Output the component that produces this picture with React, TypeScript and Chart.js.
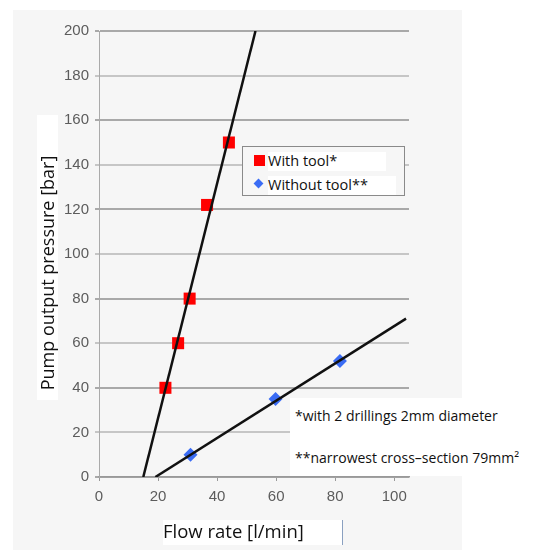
import React, { useEffect, useRef } from "react";
import { Chart, registerables } from "chart.js";

Chart.register(...registerables);

const withToolFlow = [22.5, 26.8, 30.7, 36.6, 44.0];
const withToolPressure = [40, 60, 80, 122, 150];
const withoutToolFlow = [31, 59.8, 81.6];
const withoutToolPressure = [10, 35, 52];
const withTrendFlow = [15.0, 53.0];
const withTrendPressure = [0, 200];
const withoutTrendFlow = [19.1, 104];
const withoutTrendPressure = [0, 71];
const yTicks = [0, 20, 40, 60, 80, 100, 120, 140, 160, 180, 200];
const xTicks = [0, 20, 40, 60, 80, 100];

const legendLabels = ["With tool*", "Without tool**"];
const notes = ["*with 2 drillings 2mm diameter", "**narrowest cross\u2013section 79mm\u00b2"];

const zip = (xs: number[], ys: number[]) => xs.map((x, i) => ({ x, y: ys[i] }));

export default function App() {
  const ref = useRef<HTMLCanvasElement | null>(null);
  useEffect(() => {
    if (!ref.current) return;
    const chart = new Chart(ref.current, {
      type: "scatter",
      data: {
        datasets: [
          {
            label: "trend1",
            data: zip(withTrendFlow, withTrendPressure),
            showLine: true,
            borderColor: "#111",
            borderWidth: 2.5,
            pointRadius: 0,
            order: 0,
          },
          {
            label: "trend2",
            data: zip(withoutTrendFlow, withoutTrendPressure),
            showLine: true,
            borderColor: "#111",
            borderWidth: 2.5,
            pointRadius: 0,
            order: 0,
          },
          {
            label: legendLabels[0],
            data: zip(withToolFlow, withToolPressure),
            pointStyle: "rect",
            pointRadius: 8.5,
            backgroundColor: "#f00",
            borderColor: "#f00",
            borderWidth: 0,
            order: 1,
          },
          {
            label: legendLabels[1],
            data: zip(withoutToolFlow, withoutToolPressure),
            pointStyle: "rectRot",
            pointRadius: 7,
            backgroundColor: "#3a6cf4",
            borderColor: "#3a6cf4",
            borderWidth: 0,
            order: 1,
          },
        ],
      },
      options: {
        animation: false,
        responsive: false,
        maintainAspectRatio: false,
        layout: { padding: { left: 0, right: 125, top: 31, bottom: 0 } },
        plugins: { legend: { display: false }, tooltip: { enabled: false } },
        scales: {
          x: {
            type: "linear",
            min: 0,
            max: 105,
            afterFit: (s: any) => { s.height = 74; },
            afterBuildTicks: (s: any) => { s.ticks = xTicks.map((v) => ({ value: v })); },
            grid: { drawOnChartArea: false, drawTicks: true, tickLength: 4, color: "#999" },
            border: { display: true, color: "#999", width: 1.5 },
            ticks: { color: "#5c5c5c", padding: 7, font: { family: "Liberation Sans", size: 15 } },
          },
          y: {
            type: "linear",
            min: 0,
            max: 200,
            afterFit: (s: any) => { s.width = 99; },
            afterBuildTicks: (s: any) => { s.ticks = yTicks.map((v) => ({ value: v })); },
            grid: {
              drawTicks: true,
              tickLength: 4,
              color: (c: any) => ((c.index ?? 0) % 2 === 0 ? "#a9a9a9" : "#c6c6c6"),
              lineWidth: 2,
            },
            border: { display: true, color: "#aaa", width: 1 },
            ticks: { color: "#5c5c5c", padding: 6, font: { family: "Liberation Sans", size: 15 } },
          },
        },
      },
    });
    return () => chart.destroy();
  }, []);

  const abs: React.CSSProperties = { position: "absolute" };
  return (
    <div style={{ position: "absolute", left: 0, top: 0, width: 534, height: 551, background: "#fff", overflow: "hidden" }}>
      <div style={{ ...abs, left: 13, top: 10, width: 449, height: 540, background: "#f6f6f6" }} />
      <canvas ref={ref} width={534} height={551} style={{ ...abs, left: 0, top: 0, width: 534, height: 551 }} />
      <div style={{ ...abs, left: 37, top: 115, width: 21, height: 285, background: "#fff" }} />
      <div style={{ ...abs, left: 47, top: 273, width: 0, height: 0 }}>
        <div
          style={{
            position: "absolute",
            left: 0,
            top: 0,
            transform: "translate(-50%, -50%) rotate(-90deg)",
            whiteSpace: "nowrap",
            fontFamily: "Open Sans",
            fontSize: 18,
            color: "#111",
            lineHeight: "20px",
          }}
        >
          Pump output pressure [bar]
        </div>
      </div>
      <div
        style={{
          ...abs,
          left: 163,
          top: 520,
          width: 179,
          height: 25,
          background: "#fff",
          borderRight: "1px solid #8aa0c0",
        }}
      />
      <div style={{ ...abs, left: 163, top: 519, fontFamily: "Open Sans", fontSize: 18.5, color: "#111", lineHeight: "24px", whiteSpace: "nowrap" }}>
        Flow rate [l/min]
      </div>
      <div
        style={{
          ...abs,
          left: 242,
          top: 146,
          width: 161,
          height: 48,
          border: "1.5px solid #8a8a8a",
          background: "#f6f6f6",
        }}
      >
        <div style={{ ...abs, left: 25, top: 5, width: 118, height: 19, background: "#fff" }} />
        <div style={{ ...abs, left: 25, top: 29, width: 128, height: 19, background: "#fff" }} />
        <div style={{ ...abs, left: 11, top: 8, width: 11, height: 11, background: "#f00" }} />
        <div style={{ ...abs, left: 12, top: 33, width: 7, height: 7, background: "#3a6cf4", transform: "rotate(45deg)" }} />
        <div style={{ ...abs, left: 25, top: 4, fontFamily: "Open Sans", fontSize: 14.5, color: "#111", lineHeight: "20px", whiteSpace: "nowrap" }}>
          {legendLabels[0]}
        </div>
        <div style={{ ...abs, left: 25, top: 28, fontFamily: "Open Sans", fontSize: 14.5, color: "#111", lineHeight: "20px", whiteSpace: "nowrap" }}>
          {legendLabels[1]}
        </div>
      </div>
      <div style={{ ...abs, left: 290, top: 398, width: 244, height: 78, background: "#fff" }} />
      <div style={{ ...abs, left: 295, top: 406, fontFamily: "Open Sans", fontSize: 14, color: "#111", lineHeight: "20px", whiteSpace: "nowrap" }}>
        {notes[0]}
      </div>
      <div style={{ ...abs, left: 295, top: 448, fontFamily: "Open Sans", fontSize: 14, color: "#111", lineHeight: "20px", whiteSpace: "nowrap" }}>
        {notes[1]}
      </div>
    </div>
  );
}
